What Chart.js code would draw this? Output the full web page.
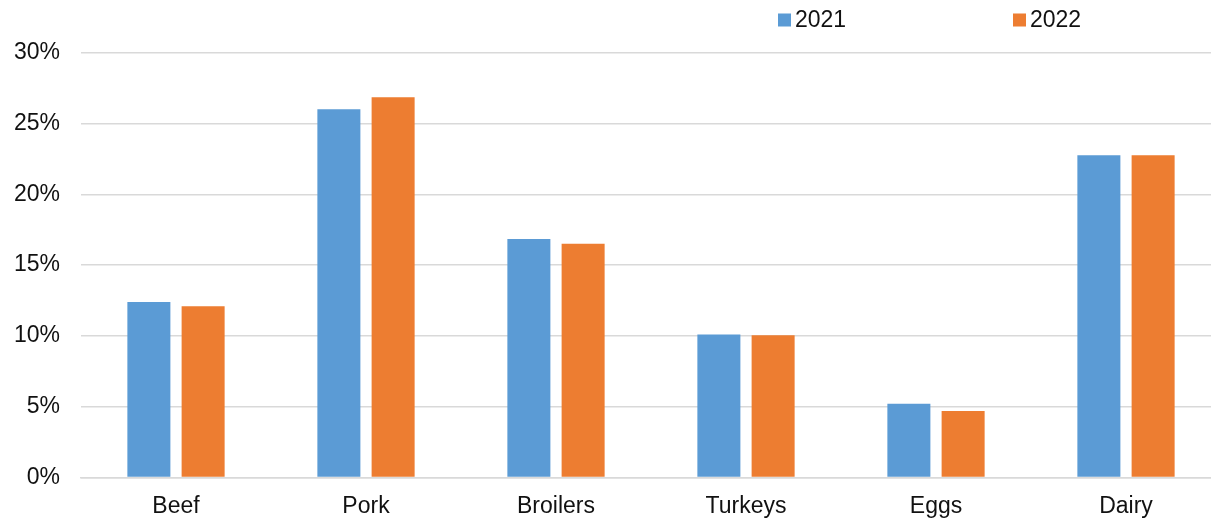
<!DOCTYPE html>
<html>
<head>
<meta charset="utf-8">
<script src="https://cdn.jsdelivr.net/npm/chart.js@4/dist/chart.umd.min.js"></script>
<style>
  html, body { margin: 0; padding: 0; background: #fff; overflow: hidden; }
  #wrap { width: 1232px; height: 519px; }
</style>
</head>
<body>
<div id="wrap"><canvas id="c" width="1232" height="519"></canvas></div>
<script>
const categories = ['Beef', 'Pork', 'Broilers', 'Turkeys', 'Eggs', 'Dairy'];
const seriesNames = ['2021', '2022'];
const values2021 = [12.4, 26.0, 16.85, 10.1, 5.2, 22.75];
const values2022 = [12.1, 26.85, 16.5, 10.05, 4.7, 22.75];
const yTicks = [0, 5, 10, 15, 20, 25, 30];

const FONT = "'Liberation Sans', Arial, sans-serif";
const colors = ['#5B9BD5', '#ED7D31'];

const legendPlugin = {
  id: 'customLegend',
  afterDraw(chart) {
    const ctx = chart.ctx;
    const xs = [778, 1013];
    ctx.save();
    ctx.font = '23px ' + FONT;
    ctx.textBaseline = 'middle';
    ctx.textAlign = 'left';
    chart.data.datasets.forEach((ds, i) => {
      ctx.fillStyle = ds.backgroundColor;
      ctx.fillRect(xs[i], 13.5, 13, 13);
      ctx.fillStyle = '#111';
      ctx.fillText(ds.label, xs[i] + 17, 21);
    });
    ctx.restore();
  }
};

new Chart(document.getElementById('c'), {
  type: 'bar',
  data: {
    labels: categories,
    datasets: [
      { label: seriesNames[0], data: values2021, backgroundColor: colors[0] },
      { label: seriesNames[1], data: values2022, backgroundColor: colors[1] }
    ]
  },
  options: {
    responsive: false,
    animation: false,
    devicePixelRatio: 1,
    categoryPercentage: 0.571,
    barPercentage: 0.793,
    layout: { padding: { left: 0, right: 11, top: 52.7, bottom: 0 } },
    plugins: { legend: { display: false }, tooltip: { enabled: false } },
    scales: {
      x: {
        grid: { display: false, drawTicks: false },
        border: { display: true, color: '#D9D9D9', width: 1.5 },
        ticks: { color: '#111', font: { family: FONT, size: 23 }, padding: 15, maxRotation: 0 },
        afterFit(s) { s.height = 41.5; }
      },
      y: {
        min: 0, max: 30,
        afterBuildTicks(s) { s.ticks = yTicks.map(v => ({ value: v })); },
        grid: { color: '#D9D9D9', lineWidth: 1.5, drawTicks: false },
        border: { display: false },
        ticks: { color: '#111', font: { family: FONT, size: 23 }, padding: 21, callback: v => v + '%' },
        afterFit(s) { s.width = 81; }
      }
    }
  },
  plugins: [legendPlugin]
});
</script>
</body>
</html>
